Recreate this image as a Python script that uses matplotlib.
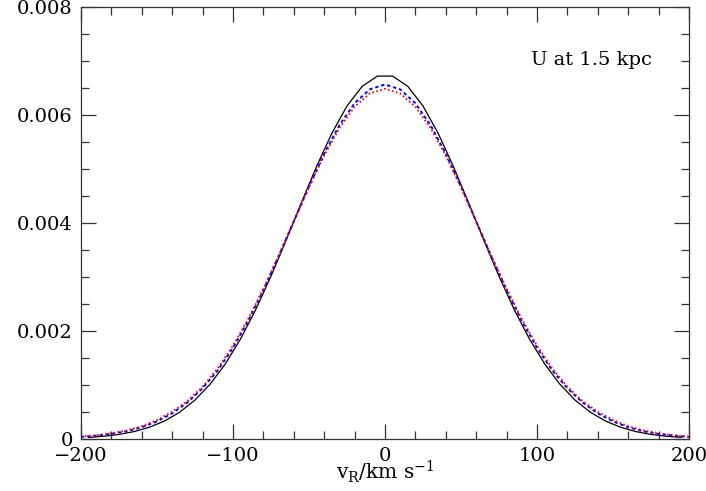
import matplotlib.pyplot as plt
from matplotlib.ticker import MultipleLocator

plt.rcParams['font.family'] = ['DejaVu Serif']
plt.rcParams['mathtext.fontset'] = 'dejavuserif'

# black: binned histogram, bin centres every 10 km/s
v_bins = [-195, -185, -175, -165, -155, -145, -135, -125, -115, -105,
          -95, -85, -75, -65, -55, -45, -35, -25, -15, -5,
          5, 15, 25, 35, 45, 55, 65, 75, 85, 95,
          105, 115, 125, 135, 145, 155, 165, 175, 185, 195]
f_black_half = [0.0000292, 0.0000503, 0.0000842, 0.000137, 0.000217,
                0.000333, 0.000497, 0.000721, 0.001017, 0.001393,
                0.001855, 0.002399, 0.003017, 0.003687, 0.004378,
                0.005051, 0.005664, 0.006172, 0.006536, 0.006726]
f_black = f_black_half + f_black_half[::-1]

# blue and red: model curves
v_model = list(range(-200, 201, 10))
f_blue_half = [0.000038, 0.000060, 0.000094, 0.000143, 0.000218,
               0.000325, 0.000475, 0.000675, 0.000940, 0.001272,
               0.001691, 0.002189, 0.002757, 0.003379, 0.004031,
               0.004680, 0.005288, 0.005815, 0.006223, 0.006481]
f_blue = f_blue_half + [0.006570] + f_blue_half[::-1]
f_red_half = [0.000042, 0.000068, 0.000105, 0.000157, 0.000236,
              0.000350, 0.000505, 0.000700, 0.000967, 0.001311,
              0.001730, 0.002224, 0.002785, 0.003396, 0.004033,
              0.004664, 0.005253, 0.005762, 0.006156, 0.006405]
f_red = f_red_half + [0.006490] + f_red_half[::-1]

fig = plt.figure(figsize=(7.06, 4.91), dpi=100)
ax = fig.add_axes([0.1147, 0.106, 0.8612, 0.879])

ax.plot(v_bins, f_black, color='black', lw=0.9)
ax.plot(v_model, f_blue, color='blue', lw=1.4, dashes=(1.7, 1.5))
ax.plot(v_model, f_red, color='red', lw=1.4, dashes=(0.8, 1.3))

ax.set_xlim(-200, 200)
ax.set_ylim(0, 0.008)
ax.xaxis.set_major_locator(MultipleLocator(100))
ax.xaxis.set_minor_locator(MultipleLocator(20))
ax.yaxis.set_major_locator(MultipleLocator(0.002))
ax.yaxis.set_minor_locator(MultipleLocator(0.0005))
ax.set_yticks([0, 0.002, 0.004, 0.006, 0.008], ['0', '0.002', '0.004', '0.006', '0.008'])
ax.set_xticks([-200, -100, 0, 100, 200], ['\u2212200', '\u2212100', '0', '100', '200'])

ax.tick_params(which='both', direction='in', top=True, right=True,
               labelsize=14, color='#333333', width=0.9)
ax.tick_params(which='major', length=11, pad=6)
ax.tick_params(which='minor', length=5.5)
for s in ax.spines.values():
    s.set_color('#333333')
    s.set_linewidth(0.9)

ax.set_xlabel(r'v$_{\rm R}$/km s$^{-1}$', fontsize=14.5, labelpad=-5)
ax.text(0.939, 0.877, 'U at 1.5 kpc', transform=ax.transAxes,
        ha='right', va='center', fontsize=14)

fig.savefig('out.png', dpi=100)
